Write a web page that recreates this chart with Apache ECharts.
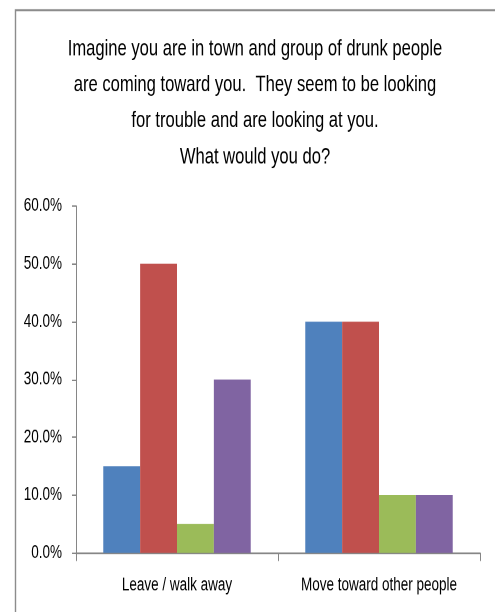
<!DOCTYPE html>
<html>
<head>
<meta charset="utf-8">
<script src="https://cdn.jsdelivr.net/npm/echarts@6/dist/echarts.min.js"></script>
<style>
  html, body { margin: 0; padding: 0; background: #fff; }
  #wrap { width: 495px; height: 612px; position: relative; overflow: hidden; background: #fff; }
  /* the chart is laid out at a shorter height and stretched to 612px tall,
     which gives the tall, narrow lettering of the original slide */
  #chart { position: absolute; left: 0; top: 0; width: 495px; height: 453px;
           transform: scaleY(1.351); transform-origin: 0 0; }
</style>
</head>
<body>
<div id="wrap"><div id="chart"></div></div>
<script>
// Survey answers, in percent
const categories = ['Leave / walk away', 'Move toward other people'];
const seriesA = [15, 40];
const seriesB = [50, 40];
const seriesC = [5, 10];
const seriesD = [30, 10];
const titleLines = [
  'Imagine you are in town and group of drunk people',
  'are coming toward you.  They seem to be looking',
  'for trouble and are looking at you.',
  'What would you do?'
];

const FONT = '"Liberation Sans", Arial, sans-serif';
const colors = ['#4F81BD', '#C0504D', '#9BBB59', '#8064A2'];
const values = [seriesA, seriesB, seriesC, seriesD];

const chart = echarts.init(document.getElementById('chart'), null, { devicePixelRatio: 2 });
chart.setOption({
  animation: false,
  backgroundColor: '#fff',
  graphic: [
    {
      // outer frame of the chart area
      type: 'rect',
      shape: { x: 15.5, y: 7.5, width: 520, height: 480 },
      style: { fill: 'none', stroke: '#8c8c8c', lineWidth: 1.4 },
      silent: true
    },
    {
      // multi-line heading
      type: 'text',
      x: 255,
      y: 23,
      silent: true,
      style: {
        text: titleLines.join('\n'),
        align: 'center',
        verticalAlign: 'top',
        font: '16.6px ' + FONT,
        lineHeight: 26.65,
        fill: '#000'
      }
    }
  ],
  grid: { left: 76, right: 15, top: 152.5, bottom: 43.7, containLabel: false },
  xAxis: {
    type: 'category',
    data: categories,
    axisLine: { lineStyle: { color: '#868686', width: 1.3 } },
    axisTick: { show: true, length: 6, alignWithLabel: false, lineStyle: { color: '#868686' } },
    axisLabel: { interval: 0, fontFamily: FONT, fontSize: 13.5, color: '#000', margin: 17 }
  },
  yAxis: {
    type: 'value',
    min: 0, max: 60, interval: 10,
    axisLine: { show: true, lineStyle: { color: '#868686' } },
    axisTick: { show: true, length: 4, lineStyle: { color: '#868686' } },
    splitLine: { show: false },
    axisLabel: {
      fontFamily: FONT, fontSize: 13.5, color: '#000', margin: 14,
      formatter: v => v.toFixed(1) + '%'
    }
  },
  series: values.map((d, i) => ({
    type: 'bar',
    data: d,
    barGap: '0%',
    barCategoryGap: '27%',
    itemStyle: { color: colors[i] }
  }))
});
</script>
</body>
</html>
